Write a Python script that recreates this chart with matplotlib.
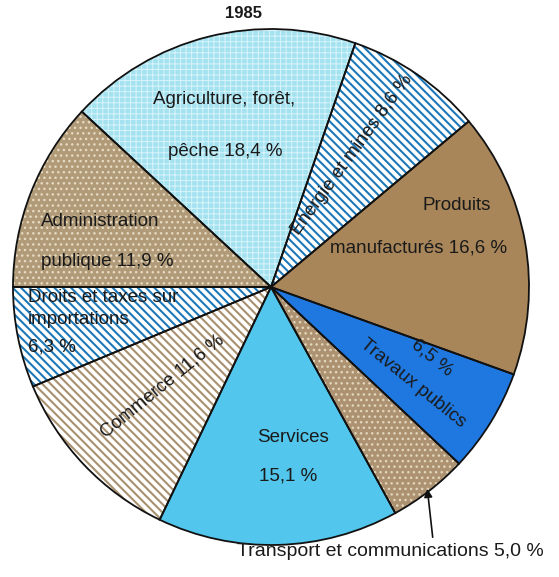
import matplotlib
matplotlib.use("Agg")
import matplotlib.pyplot as plt

plt.rcParams['font.family'] = ['Liberation Sans', 'DejaVu Sans']
plt.rcParams['hatch.linewidth'] = 1.4

title = "1985"
categories = ["Administration publique", "Agriculture, forêt, pêche", "Energie et mines",
              "Produits manufacturés", "Travaux publics", "Transport et communications",
              "Services", "Commerce", "Droits et taxes sur importations"]
values = [11.9, 18.4, 8.6, 16.6, 6.5, 5.0, 15.1, 11.6, 6.3]

facecolors = ['#b09a78', '#a4e2f0', '#ffffff', '#a8865a', '#1e78e0',
              '#ad9272', '#52c6ec', '#ffffff', '#ffffff']
hatchcolors = ['#e6dbc2', '#d8f4fa', '#1d78b8', '#a8865a', '#1e78e0',
               '#e2d6bc', '#52c6ec', '#a89070', '#1d78b8']
hatches = ['...', '+++', '\\\\\\\\', None, None, '...', None, '\\\\\\\\', '\\\\\\\\']
hatch_lw = [1.0, 0.7, 1.5, 1.0, 1.0, 1.0, 1.0, 1.5, 1.5]

W, H = 559, 577
fig = plt.figure(figsize=(W / 100, H / 100), dpi=100)
ax = fig.add_axes([0, 0, 1, 1])

cx, cy, R = 271, H - 287, 258

wedges, _ = ax.pie(values, startangle=180, counterclock=False, center=(cx, cy),
                   radius=R, colors=facecolors,
                   wedgeprops=dict(linewidth=0))
for w, hc, h, lw in zip(wedges, hatchcolors, hatches, hatch_lw):
    w.set_edgecolor(hc)
    if h:
        w.set_hatch(h)
        try:
            w._hatch_linewidth = lw
        except Exception:
            pass

edges, _ = ax.pie(values, startangle=180, counterclock=False, center=(cx, cy),
                  radius=R, colors=['none'] * len(values),
                  wedgeprops=dict(linewidth=1.3, edgecolor='#111111', fill=False))

ax.set_xlim(0, W)
ax.set_ylim(0, H)
ax.set_aspect('auto')
ax.axis('off')

def T(x, y, s, **kw):
    d = dict(ha='center', va='center', fontsize=13.5, color='#1a1a1a')
    d.update(kw)
    ax.text(x, H - y, s, **d)

T(244, 14, title, fontsize=12, fontweight='bold')
T(224, 100, "Agriculture, forêt,")
T(225, 152, "pêche 18,4 %")
T(352, 155, "Energie et mines 8,6 %", rotation=54, rotation_mode='anchor')
T(457, 205, "Produits")
T(419, 248, "manufacturés 16,6 %")
T(100, 222, "Administration")
T(107, 262, "publique 11,9 %")
T(28, 297, "Droits et taxes sur", ha='left')
T(28, 320, "importations", ha='left')
T(28, 347, "6,3 %", ha='left')
T(162, 386, "Commerce 11,6 %", rotation=39, rotation_mode='anchor')
T(293, 437, "Services")
T(288, 476, "15,1 %")
T(432, 358, "6,5 %", rotation=-39, rotation_mode='anchor')
T(413, 383, "Travaux publics", rotation=-39, rotation_mode='anchor')
T(390, 551, "Transport et communications 5,0 %", fontsize=14)

ax.annotate("", xy=(427, H - 486), xytext=(433, H - 540),
            arrowprops=dict(arrowstyle='-|>', color='#111111', lw=1.2,
                            mutation_scale=12))

fig.savefig("out.png", dpi=100)
